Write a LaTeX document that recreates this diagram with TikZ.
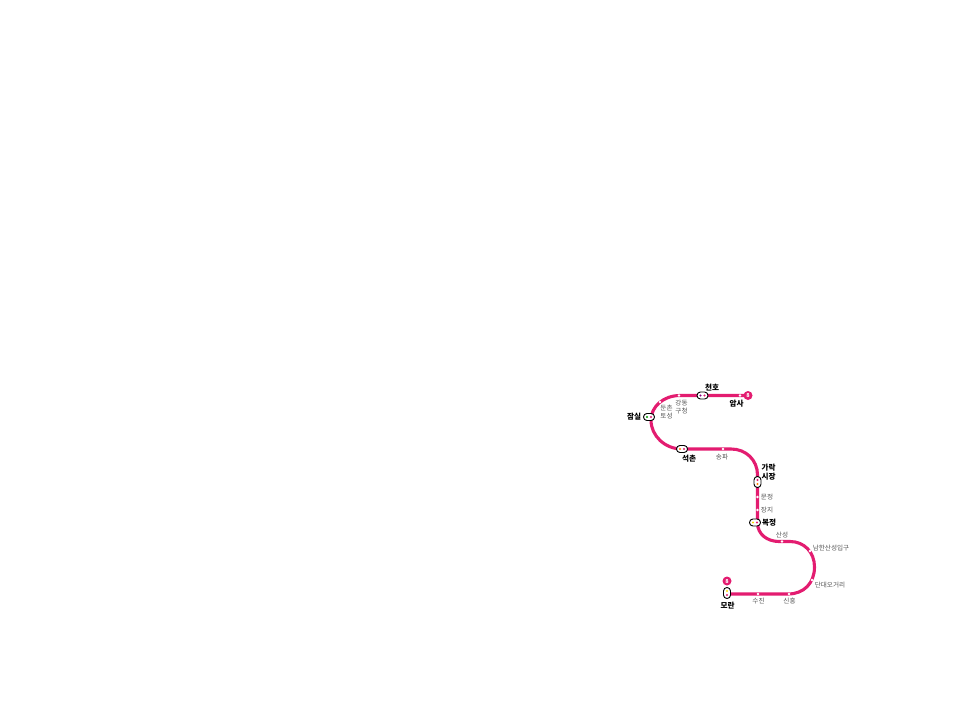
\documentclass[tikz,border=0pt]{standalone}
\usepackage{fontspec}
\setmainfont{Noto Sans CJK KR}
\usetikzlibrary{positioning}
\definecolor{linepink}{HTML}{E31C70}
\definecolor{labelgray}{HTML}{555555}
\tikzset{
    major/.style={font=\fontsize{7.6}{9.2}\selectfont\bfseries, text=black, inner sep=0pt, align=center},
    minor/.style={font=\fontsize{6.6}{8.2}\selectfont, text=labelgray, inner sep=0pt, align=center, yshift=-0.8pt},
    stop/.style={circle, fill=white, inner sep=0pt, minimum size=2.6pt},
    wide/.style={draw=black, fill=white, line width=0.9pt, rounded corners=3.4pt, minimum width=11pt, minimum height=7pt, inner sep=0pt},
    tall/.style={draw=black, fill=white, line width=0.9pt, rounded corners=3.4pt, minimum width=7pt, minimum height=11pt, inner sep=0pt},
    dot/.style={circle, inner sep=0pt, minimum size=2.4pt},
    badge/.style={circle, fill=linepink, text=white, inner sep=0pt, minimum size=9pt, font=\fontsize{5.5}{5.5}\selectfont\bfseries}
}
\begin{document}
\begin{tikzpicture}[x=1pt, y=-1pt]
    \useasboundingbox (0,0) rectangle (956,715);

    % Line
    \coordinate (end1) at (748,395.5);
    \coordinate (end2) at (727,594);
    \draw[linepink, line width=3.1pt]
        (end1) -- (680,395.5)
        .. controls (663,395.5) and (651,407) .. (651,420)
        .. controls (651,436) and (665,449) .. (682,449)
        -- (731,449)
        .. controls (746,449) and (757.5,460) .. (757.5,475)
        -- (757.5,523)
        .. controls (757.5,534) and (767,541.5) .. (779,541.5)
        -- (790,541.5)
        .. controls (804,541.5) and (814.5,552) .. (814.5,567)
        .. controls (814.5,583) and (804,594) .. (788,594)
        -- (end2);

    % Stations
    \node[badge] (amsa8) at (end1) {8};
    \node[stop] (amsa) at (740,395.5) {};
    \node[wide] (cheonho) at (702.5,395.5) {};
    \node[stop] (gangdong) at (679,395.5) {};
    \node[stop] (dunchon) at (660,402) {};
    \node[wide] (jamsil) at (649,417) {};
    \node[wide] (seokchon) at (682,449) {};
    \node[stop] (songpa) at (723,449) {};
    \node[tall] (garak) at (757.5,482) {};
    \node[stop] (munjeong) at (757.5,497) {};
    \node[stop] (jangji) at (757.5,510) {};
    \node[wide] (bokjeong) at (755,522.5) {};
    \node[stop] (sanseong) at (782,541.5) {};
    \node[stop] (namhan) at (810,551) {};
    \node[stop] (dandae) at (812,580) {};
    \node[stop] (sinheung) at (789,594) {};
    \node[stop] (sujin) at (758,594) {};
    \node[tall] (moran) at (727,593) {};
    \node[badge] (moran8) at (727,581) {8};

    % Transfer dots
    \node[dot, fill=violet] at (700.5,395.5) {};
    \node[dot, fill=linepink] at (704.5,395.5) {};
    \node[dot, fill=green!60!black] at (647,417) {};
    \node[dot, fill=linepink] at (651,417) {};
    \node[dot, fill=orange] at (680,449) {};
    \node[dot, fill=linepink] at (684,449) {};
    \node[dot, fill=linepink] at (757.5,480) {};
    \node[dot, fill=orange] at (757.5,484) {};
    \node[dot, fill=yellow!80!orange] at (753,522.5) {};
    \node[dot, fill=linepink] at (757,522.5) {};
    \node[dot, fill=yellow!80!orange] at (727,591) {};
    \node[dot, fill=linepink] at (727,595) {};

    % Labels
    \node[major] (lcheonho) at (712,387.5) {천호};
    \node[major] (lamsa) at (736.5,403.5) {암사};
    \node[major] (ljamsil) at (634,416.8) {잠실};
    \node[major] (lseokchon) at (689,458.3) {석촌};
    \node[major] (lgarak) at (768.5,472.5) {가락\\시장};
    \node[major] (lbokjeong) at (769,522.8) {복정};
    \node[major] (lmoran) at (727.5,605.5) {모란};
    \node[minor] (lgangdong) at (681.5,406.5) {강동\\구청};
    \node[minor] (ldunchon) at (666.5,411.5) {둔촌\\토성};
    \node[minor] (lsongpa) at (722,456.5) {송파};
    \node[minor] (lmunjeong) at (767,496.2) {문정};
    \node[minor] (ljangji) at (767,509.2) {장지};
    \node[minor] (lsanseong) at (782,534.5) {산성};
    \node[minor] (lnamhan) at (831,547.5) {남한산성입구};
    \node[minor] (ldandae) at (830,584.5) {단대오거리};
    \node[minor] (lsinheung) at (789.5,600.5) {신흥};
    \node[minor] (lsujin) at (758.5,600.5) {수진};
\end{tikzpicture}
\end{document}
